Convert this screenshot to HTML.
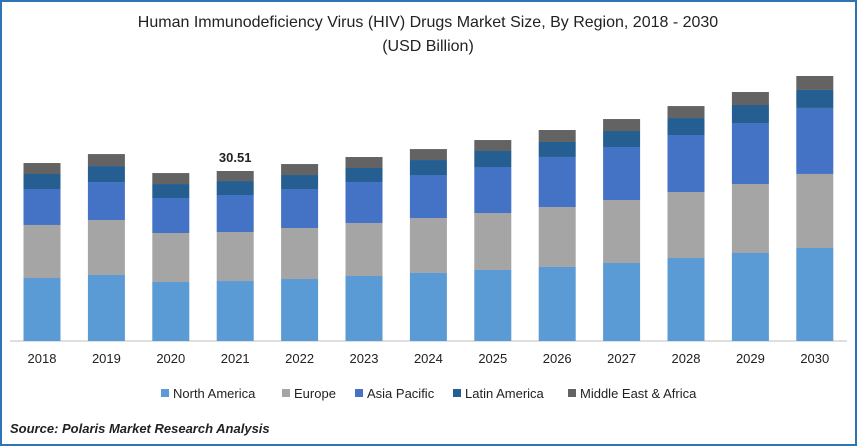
<!DOCTYPE html>
<html><head><meta charset="utf-8"><style>
body{margin:0;background:#fff;}
#wrap{position:relative;width:853px;height:442px;border:2px solid #2e75b6;overflow:hidden;font-family:"Liberation Sans",sans-serif;}
svg text{font-family:"Liberation Sans",sans-serif;}
</style></head><body>
<div id="wrap">
<svg id="chart" width="853" height="442">
<text x="426" y="25" text-anchor="middle" font-size="16" fill="#222">Human Immunodeficiency Virus (HIV) Drugs Market Size, By Region, 2018 - 2030</text>
<text x="426" y="49" text-anchor="middle" font-size="16" fill="#222">(USD Billion)</text>
<line x1="8" y1="339" x2="845" y2="339" stroke="#bfbfbf"/>
<g id="bars"></g><g id="xlabels"></g><g id="legend"></g>
<text x="8" y="431" font-size="13" font-weight="bold" font-style="italic" fill="#222">Source: Polaris Market Research Analysis</text>
</svg></div>
<script>
const years=["2018","2019","2020","2021","2022","2023","2024","2025","2026","2027","2028","2029","2030"];
const northAmerica=[11.31,11.85,10.59,10.77,11.13,11.67,12.21,12.75,13.29,14.00,14.90,15.80,16.70];
const europe=[9.52,9.87,8.80,8.80,9.16,9.52,9.87,10.23,10.77,11.31,11.85,12.39,13.29];
const asiaPacific=[6.46,6.82,6.28,6.64,7.00,7.36,7.72,8.26,8.98,9.52,10.23,10.95,11.85];
const latinAmerica=[2.69,2.87,2.51,2.51,2.51,2.51,2.69,2.87,2.69,2.87,3.05,3.23,3.23];
const middleEastAfrica=[1.97,2.15,1.97,1.80,1.97,1.97,1.97,1.97,2.15,2.15,2.15,2.33,2.51];
const seriesNames=["North America","Europe","Asia Pacific","Latin America","Middle East & Africa"];
const annotatedYear="2021";const annotatedLabel="30.51";
const series=[northAmerica,europe,asiaPacific,latinAmerica,middleEastAfrica];
const colors=["#5b9bd5","#a5a5a5","#4472c4","#255e91","#636363"];
const NS="http://www.w3.org/2000/svg";
const base=339,scale=5.57,x0=40,step=64.4,bw=37;
function yPos(v){return base-v*scale;}
function xPos(i){return x0+i*step;}
const gb=document.getElementById('bars'),gx=document.getElementById('xlabels'),gl=document.getElementById('legend');
years.forEach((yr,i)=>{
 let cum=0;
 series.forEach((s,k)=>{
  const r=document.createElementNS(NS,'rect');
  r.setAttribute('x',xPos(i)-bw/2);r.setAttribute('width',bw);
  r.setAttribute('y',yPos(cum+s[i]));r.setAttribute('height',s[i]*scale);
  r.setAttribute('fill',colors[k]);
  
  
  gb.appendChild(r);cum+=s[i];
 });
 if(yr===annotatedYear){
  const t=document.createElementNS(NS,'text');
  t.setAttribute('x',xPos(i));t.setAttribute('y',yPos(cum)-9);t.setAttribute('text-anchor','middle');
  t.setAttribute('font-size','13');t.setAttribute('font-weight','bold');t.setAttribute('fill','#222');
  t.textContent=annotatedLabel;
  
  
  gb.appendChild(t);
 }
 const t=document.createElementNS(NS,'text');
 t.setAttribute('x',xPos(i));t.setAttribute('y',361);t.setAttribute('text-anchor','middle');
 t.setAttribute('font-size','13');t.setAttribute('fill','#222');t.textContent=yr;
 
 
 gx.appendChild(t);
});
const lx=[159,280,353,451,566];
seriesNames.forEach((n,k)=>{
 const g=document.createElementNS(NS,'g');
 
 
 const r=document.createElementNS(NS,'rect');
 r.setAttribute('x',lx[k]);r.setAttribute('y',387);r.setAttribute('width',8);r.setAttribute('height',8);r.setAttribute('fill',colors[k]);
 const t=document.createElementNS(NS,'text');
 t.setAttribute('x',lx[k]+12);t.setAttribute('y',396);t.setAttribute('font-size','13');t.setAttribute('fill','#222');t.textContent=n;
 g.appendChild(r);g.appendChild(t);gl.appendChild(g);
});
</script></body></html>
